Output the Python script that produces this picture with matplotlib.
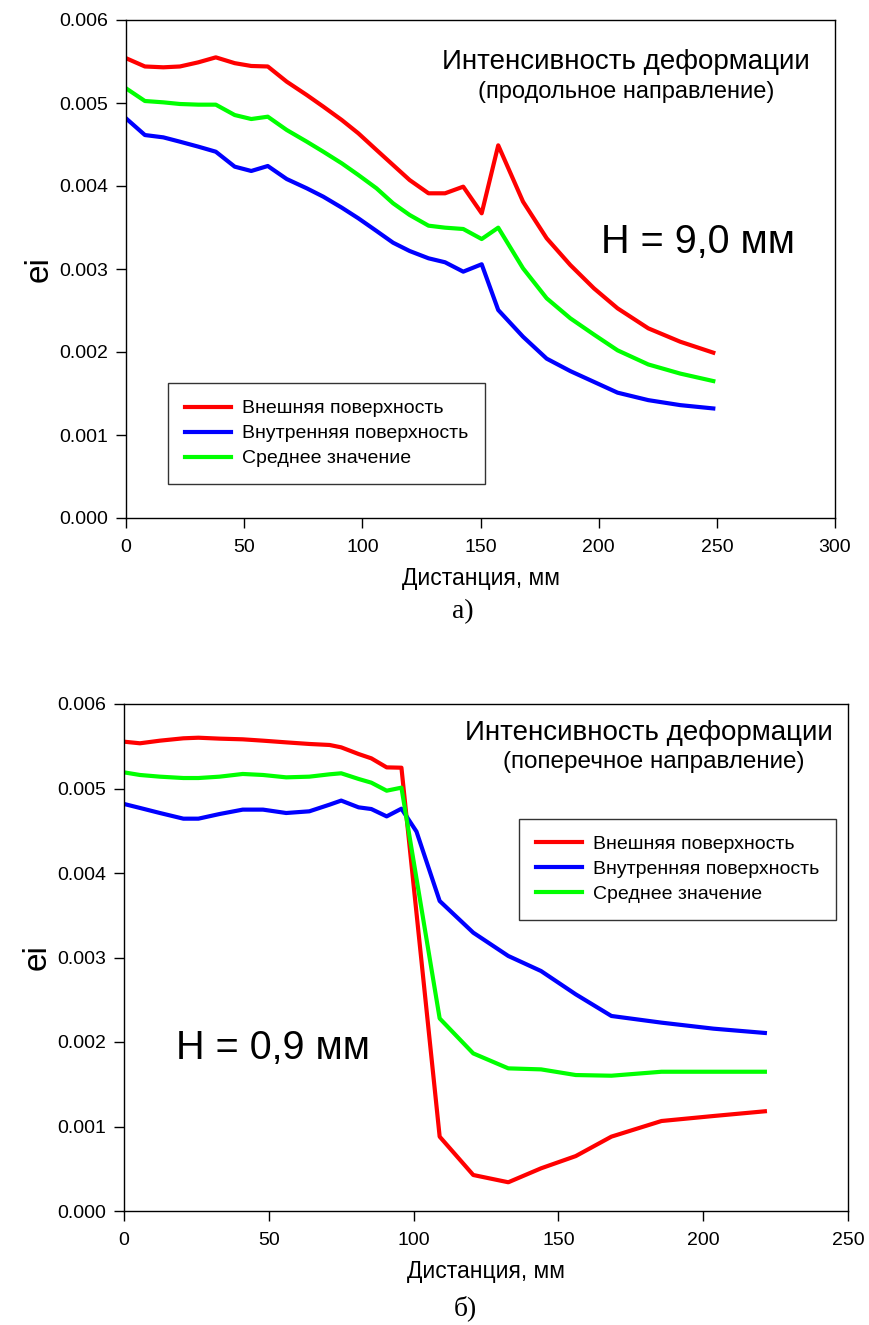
import matplotlib
matplotlib.use("Agg")
import matplotlib.pyplot as plt
from matplotlib.font_manager import fontManager

names = {f.name for f in fontManager.ttflist}
SANS = "Liberation Sans" if "Liberation Sans" in names else "DejaVu Sans"
NARROW = "Liberation Sans Narrow" if "Liberation Sans Narrow" in names else SANS
SERIF = "Liberation Serif" if "Liberation Serif" in names else "DejaVu Serif"
plt.rcParams['font.family'] = [SANS, 'DejaVu Sans']

# ---- Panel a) longitudinal, H = 9.0 mm ----
x_a = [0, 8, 15.8, 22.8, 30.6, 38, 46, 53, 60, 68, 76.5, 83.5, 91.3, 98.3, 106,
       113, 120, 128, 135, 142.7, 150.5, 157.5, 168, 178, 188, 198, 208, 221, 234.5, 248.5]
red_a = [0.00554, 0.00544, 0.00543, 0.00544, 0.00549, 0.00555, 0.00548, 0.005446, 0.00544,
         0.005257, 0.005096, 0.004956, 0.004795, 0.004635, 0.004434, 0.004253, 0.004072,
         0.003912, 0.003912, 0.003992, 0.003671, 0.00449, 0.003811, 0.00337, 0.003048,
         0.002767, 0.002526, 0.002285, 0.002124, 0.001992]
green_a = [0.005177, 0.005024, 0.005008, 0.004988, 0.00498, 0.00498, 0.004855, 0.004807,
           0.004835, 0.004675, 0.004534, 0.004413, 0.004273, 0.004133, 0.003972, 0.003792,
           0.003651, 0.003522, 0.003498, 0.003482, 0.003361, 0.003498, 0.003008, 0.002647,
           0.002406, 0.00221, 0.00202, 0.00185, 0.00174, 0.00165]
blue_a = [0.004815, 0.004614, 0.004586, 0.004534, 0.004474, 0.004413, 0.004233, 0.004181,
          0.004241, 0.004084, 0.003972, 0.003871, 0.003739, 0.003611, 0.003458, 0.003317,
          0.003217, 0.003129, 0.003081, 0.002968, 0.003057, 0.002506, 0.002184, 0.00192,
          0.00177, 0.00164, 0.00151, 0.00142, 0.00136, 0.00132]

# ---- Panel б) transverse, H = 0.9 mm ----
x_b = [0, 5.5, 12.4, 20.5, 25.7, 33, 41, 48, 56, 64, 71, 75, 81, 85.4, 90.7, 95.8,
       109, 120.6, 132.7, 144, 156, 168.3, 185.6, 203.5, 221.3]
red_b = [0.005554, 0.005535, 0.005566, 0.005594, 0.005601, 0.00559, 0.005582, 0.005566,
         0.005546, 0.005527, 0.005515, 0.005487, 0.005408, 0.005357, 0.00525, 0.005246,
         0.00088, 0.000426, 0.00034, 0.000505, 0.00065, 0.00088, 0.001065, 0.001124, 0.00118]
green_b = [0.005191, 0.00516, 0.00514, 0.005124, 0.005124, 0.00514, 0.005172, 0.00516,
           0.005132, 0.00514, 0.005168, 0.00518, 0.005113, 0.005069, 0.004974, 0.00501,
           0.002279, 0.001865, 0.001688, 0.001676, 0.001609, 0.001601, 0.001648, 0.001648,
           0.001648]
x_b_blue = [0, 5.5, 12.4, 20.5, 25.7, 33, 41, 48, 56, 64, 71, 75, 81, 85.4, 90.7, 95.8,
            101, 109, 120.6, 132.7, 144, 156, 168.3, 185.6, 203.5, 221.3]
blue_b = [0.004817, 0.00477, 0.00471, 0.004643, 0.004643, 0.004698, 0.00475, 0.00475,
          0.00471, 0.00473, 0.004809, 0.004857, 0.004777, 0.004757, 0.00467, 0.004761,
          0.00449, 0.003669, 0.003294, 0.003018, 0.00284, 0.002564, 0.002308, 0.002229,
          0.002158, 0.002107]

labels = ["Внешняя поверхность", "Внутренняя поверхность", "Среднее значение"]
yticks = [0.000, 0.001, 0.002, 0.003, 0.004, 0.005, 0.006]
xticks_a = [0, 50, 100, 150, 200, 250, 300]
xticks_b = [0, 50, 100, 150, 200, 250]

RED, BLUE, GREEN = "#ff0000", "#0000ff", "#00ff00"
LW = 3.0

fig = plt.figure(figsize=(8.69, 13.25), dpi=100)
W, H = 869, 1325

def add_ax(l, t, r, b):
    return fig.add_axes([l / W, 1 - b / H, (r - l) / W, (b - t) / H])

ax1 = add_ax(126, 20, 835, 518)
ax2 = add_ax(124, 704, 848, 1211)

def style(ax, xticks, xmax):
    ax.set_xlim(0, xmax)
    ax.set_ylim(0, 0.006)
    ax.set_xticks(xticks)
    ax.set_yticks(yticks)
    ax.set_yticklabels([f"{v:.3f}" for v in yticks], fontsize=14)
    ax.set_xticklabels([str(v) for v in xticks], fontsize=14, family=[NARROW, SANS])
    ax.tick_params(direction="out", length=7, width=1, top=False, right=False, pad=6)
    ax.tick_params(axis="x", pad=8)
    for s in ax.spines.values():
        s.set_linewidth(1)
    ax.set_xlabel("Дистанция, мм", fontsize=16.5, family=[NARROW, SANS], labelpad=8)
    ax.set_ylabel("ei", fontsize=24, labelpad=3)

for ax, xr, r, xbl, bl, g in [(ax1, x_a, red_a, x_a, blue_a, green_a),
                              (ax2, x_b, red_b, x_b_blue, blue_b, green_b)]:
    ax.plot(xr, r, color=RED, lw=LW, label=labels[0], solid_joinstyle="round")
    ax.plot(xbl, bl, color=BLUE, lw=LW, label=labels[1], solid_joinstyle="round")
    ax.plot(xr, g, color=GREEN, lw=LW, label=labels[2], solid_joinstyle="round")

style(ax1, xticks_a, 300)
style(ax2, xticks_b, 250)

leg_kw = dict(fontsize=14, frameon=True, fancybox=False, edgecolor="black",
              handlelength=2.4, borderpad=0.85, labelspacing=0.38, handletextpad=0.55,
              borderaxespad=0)
l1 = ax1.legend(loc="upper left", bbox_to_anchor=(0.0592, 0.2707), **leg_kw)
l2 = ax2.legend(loc="upper left", bbox_to_anchor=(0.5456, 0.773), **leg_kw)
for l in (l1, l2):
    l.get_frame().set_linewidth(1)

ax1.text(0.705, 0.916, "Интенсивность деформации", transform=ax1.transAxes,
         ha="center", va="center", fontsize=20)
ax1.text(0.705, 0.855, "(продольное направление)", transform=ax1.transAxes,
         ha="center", va="center", fontsize=17)
ax1.text(0.807, 0.554, "H = 9,0 мм", transform=ax1.transAxes,
         ha="center", va="center", fontsize=28.5)

ax2.text(0.725, 0.943, "Интенсивность деформации", transform=ax2.transAxes,
         ha="center", va="center", fontsize=20)
ax2.text(0.732, 0.886, "(поперечное направление)", transform=ax2.transAxes,
         ha="center", va="center", fontsize=17.5)
ax2.text(0.206, 0.321, "H = 0,9 мм", transform=ax2.transAxes,
         ha="center", va="center", fontsize=28.5)

fig.text(463 / W, 1 - 612 / H, "а)", ha="center", va="center", fontsize=20,
         family=[SERIF, "DejaVu Serif"])
fig.text(465 / W, 1 - 1308 / H, "б)", ha="center", va="center", fontsize=20,
         family=[SERIF, "DejaVu Serif"])

fig.savefig("out.png", dpi=100)
